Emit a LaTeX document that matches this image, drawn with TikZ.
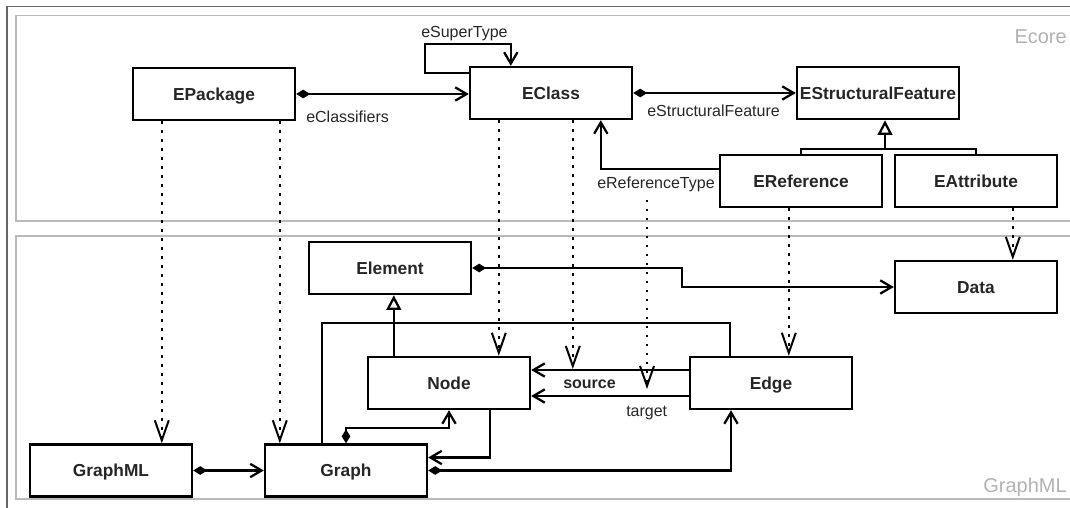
\documentclass[tikz,border=0pt]{standalone}
\usepackage{fontspec}
\setmainfont{Liberation Sans}
\usetikzlibrary{arrows.meta,calc}
\begin{document}
\begin{tikzpicture}[x=0.75pt,y=-0.75pt,
  cls/.style={draw=black, line width=1.8pt, fill=white,
    minimum width=121.5pt, minimum height=39pt, inner sep=0pt,
    text height=9.3pt, text depth=0pt,
    font=\fontsize{13}{15}\selectfont\bfseries, text=black!85},
  lbl/.style={inner sep=0pt, font=\fontsize{12}{14}\selectfont, text=black!85},
  zone/.style={inner sep=0pt, font=\fontsize{15}{17}\selectfont, text=black!30},
  panel/.style={draw=black!27, line width=0.9pt},
  conn/.style={line width=1.7pt, line join=miter},
  assoc/.style={conn, -{Straight Barb[length=8.5pt,width=10pt]}},
  comp/.style={conn, {Diamond[length=10.5pt,width=6.5pt]}-{Straight Barb[length=8.5pt,width=10pt]}},
  gen/.style={conn, -{Triangle[open,length=11pt,width=11pt,fill=white]}},
  real/.style={line width=1.8pt, dash pattern=on 1.8pt off 4.95pt,
    -{Straight Barb[length=15pt,width=10.5pt,line width=1.5pt]}}
]
\useasboundingbox (0,0) rectangle (1070,507);

% frame and the two packages
\draw[black!60, line width=1.2pt] (7,6.5) rectangle (1090,520);
\draw[panel] (16,15.5) rectangle (1085,221);
\draw[panel] (16,236) rectangle (1085,499);
\node[zone, anchor=base east] (zEcore) at (1067,43) {Ecore};
\node[zone, anchor=base east] (zGraphML) at (1067,492) {GraphML};

% Ecore classes
\node[cls] (EPackage) at (214,94) {EPackage};
\node[cls] (EClass) at (551,93) {EClass};
\node[cls] (ESF) at (878,93) {EStructuralFeature};
\node[cls] (ERef) at (801,181) {EReference};
\node[cls] (EAttr) at (976,181) {EAttribute};

% GraphML classes
\node[cls] (Element) at (390,268) {Element};
\node[cls] (Data) at (976,287) {Data};
\node[cls] (Node) at (449,383) {Node};
\node[cls] (Edge) at (771,383) {Edge};
\node[cls] (GraphML) at (111,470.5) {GraphML};
\node[cls] (Graph) at (346,470.5) {Graph};

% Ecore associations
\draw[comp] (EPackage.east) -- (EPackage.east -| EClass.west);
\node[lbl, anchor=base west] (lClassifiers) at (306,122.5) {eClassifiers};

\draw[assoc] ($(EClass.north west)+(0,7)$) -| ($(EClass.north west)+(-44,-22)$)
  -| ($(EClass.north west)+(42,0)$);
\node[lbl, anchor=base west] (lSuper) at (421,37.5) {eSuperType};

\draw[comp] (EClass.east) -- (ESF.west);
\node[lbl, anchor=base west] (lStruct) at (647,116.5) {eStructuralFeature};

\draw[assoc] ($(ERef.west)+(0,-12)$) -| ($(EClass.south west)+(132,0)$);
\node[lbl, anchor=base west] (lRefType) at (597,188) {eReferenceType};

% EStructuralFeature specialisations
\coordinate (sfjoin) at (885,149);
\draw[conn] (ERef.north) |- (sfjoin) -| (EAttr.north);
\draw[gen] (sfjoin) -- (sfjoin |- ESF.south);

% GraphML associations
\draw[comp] (Element.east) -| ($(Data.west)+(-212,0)$) -- (Data.west);

\coordinate (elemjoin) at (395,323);
\coordinate (nodegen) at ($(Node.north west)+(27,0)$);
\draw[gen] (nodegen) -- (nodegen |- Element.south);
\draw[conn] ($(Graph.north west)+(58,0)$) |- (elemjoin) -| ($(Edge.north west)+(41,0)$);

\coordinate (src1) at ($(Edge.west)+(0,-13)$);
\coordinate (tgt1) at ($(Edge.west)+(0,13)$);
\draw[assoc] (src1) -- (src1 -| Node.east);
\draw[assoc] (tgt1) -- (tgt1 -| Node.east);
\node[lbl, anchor=base west, font=\fontsize{12}{14}\selectfont\bfseries] (lSource) at (563,388) {source};
\node[lbl, anchor=base west] (lTarget) at (626,416) {target};

\draw[comp] (Graph.north) |- ($(Node.south)+(0,18)$) -- (Node.south);
\draw[assoc] ($(Node.south)+(41,0)$) |- ($(Graph.east)+(0,-13)$);
\draw[comp] (Graph.east) -| ($(Edge.south)+(-40,0)$);
\draw[comp] (GraphML.east) -- (Graph.west);

% mappings from Ecore to GraphML
\coordinate (m1) at ($(EPackage.south west)+(30,0)$);
\coordinate (m2) at ($(EPackage.south west)+(148,0)$);
\coordinate (m3) at ($(EClass.south west)+(30,0)$);
\coordinate (m4) at ($(EClass.south west)+(104,0)$);
\coordinate (m5) at (647,200);
\coordinate (m6) at ($(ERef.south west)+(70,0)$);
\coordinate (m7) at ($(EAttr.south west)+(119,0)$);
\draw[real] (m1) -- (m1 |- GraphML.north);
\draw[real] (m2) -- (m2 |- Graph.north);
\draw[real] (m3) -- (m3 |- Node.north);
\draw[real] (m4) -- ($(m4 |- src1)+(0,-1)$);
\draw[real] (m5) -- ($(m5 |- tgt1)+(0,-7)$);
\draw[real] (m6) -- (m6 |- Edge.north);
\draw[real] (m7) -- (m7 |- Data.north);
\end{tikzpicture}
\end{document}
